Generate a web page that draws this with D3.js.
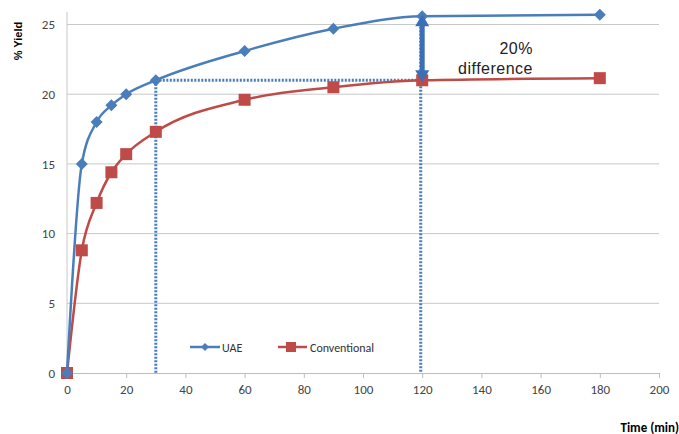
<!DOCTYPE html>
<html>
<head>
<meta charset="utf-8">
<script src="https://cdn.jsdelivr.net/npm/d3@7"></script>
<style>
  body { margin:0; background:#fff; }
  text { font-family: Calibri, Carlito, "Liberation Sans", Arial, sans-serif; }
</style>
</head>
<body>
<div id="chart"></div>
<script>
// data
var times = [0, 5, 10, 15, 20, 30, 60, 90, 120, 180]
var uae = [0, 15, 18, 19.2, 20, 21, 23.1, 24.7, 25.6, 25.7]
var conventional = [0, 8.8, 12.2, 14.4, 15.7, 17.3, 19.6, 20.5, 21.0, 21.15]
var xTicks = [0, 20, 40, 60, 80, 100, 120, 140, 160, 180, 200]
var yTicks = [0, 5, 10, 15, 20, 25]

var W = 679, H = 434
var m = { top:24.5, right:20, bottom:61, left:67 }
var blue = '#4a7ebb', red = '#be4b48'

var svg = d3.select('#chart').append('svg')
    .attr('width', W).attr('height', H)

var x = d3.scaleLinear().domain([0, 200]).range([m.left, W - m.right])
var y = d3.scaleLinear().domain([0, 25]).range([H - m.bottom, m.top])

// gridlines
svg.append('g').selectAll('line')
    .data(yTicks.slice(1))
  .enter().append('line')
    .attr('x1', x(0)).attr('x2', x(200))
    .attr('y1', d=> y(d)).attr('y2', d=> y(d))
    .style('stroke', '#c8c8c8')

// y axis line
svg.append('line')
    .attr('x1', x(0)).attr('x2', x(0))
    .attr('y1', 12).attr('y2', y(0))
    .style('stroke', '#c8c8c8')

// x axis
var xa = svg.append('g')
    .attr('transform', 'translate(0,' + y(0) + ')')
    .call(d3.axisBottom(x).tickValues(xTicks).tickSize(5).tickPadding(7))
xa.select('.domain').style('stroke', '#bdbdbd')
xa.selectAll('.tick line').style('stroke', '#bdbdbd')
xa.selectAll('text').style('font-size', '13px').style('fill', '#444')

// y labels
var ya = svg.append('g')
    .attr('transform', 'translate(' + x(0) + ',0)')
    .call(d3.axisLeft(y).tickValues(yTicks).tickSize(0).tickPadding(12))
ya.select('.domain').remove()
ya.selectAll('text').style('font-size', '13px').style('fill', '#444')

// axis titles
svg.append('text')
    .attr('transform', 'translate(22,41) rotate(-90)')
    .attr('text-anchor', 'middle')
    .style('font-family', '"Liberation Sans", Arial, sans-serif')
    .style('font-size', '11px').style('font-weight', 'bold')
    .text('% Yield')
svg.append('text')
    .attr('x', 679).attr('y', 432)
    .attr('text-anchor', 'end')
    .style('font-size', '13px').style('font-weight', 'bold')
    .text('Time (min)')

// dotted guide lines
var guide = svg.append('g')
    .style('stroke', blue).style('stroke-width', 3)
    .style('stroke-dasharray', '2,1.5').style('fill', 'none')
guide.append('line')
    .attr('x1', x(30)).attr('x2', x(30))
    .attr('y1', y(21)).attr('y2', y(0))
guide.append('line')
    .attr('x1', x(30)).attr('x2', x(120))
    .attr('y1', y(21)).attr('y2', y(21))
guide.append('line')
    .attr('x1', x(119.5)).attr('x2', x(119.5))
    .attr('y1', y(25.6)).attr('y2', y(0))

// series lines
var line = d3.line()
    .x((d, i)=> x(times[i]))
    .y(d=> y(d))
    .curve(d3.curveMonotoneX)

svg.append('path').datum(conventional)
    .attr('d', line)
    .style('fill', 'none').style('stroke', red).style('stroke-width', 2.5)
svg.append('path').datum(uae)
    .attr('d', line)
    .style('fill', 'none').style('stroke', blue).style('stroke-width', 2.5)

// markers
svg.append('g').selectAll('rect')
    .data(conventional)
  .enter().append('rect')
    .attr('x', (d, i)=> x(times[i]) - 6)
    .attr('y', d=> y(d) - 6)
    .attr('width', 12).attr('height', 12)
    .style('fill', red)
svg.append('g').selectAll('path')
    .data(uae)
  .enter().append('path')
    .attr('transform', (d, i)=> 'translate(' + x(times[i]) + ',' + y(d) + ')')
    .attr('d', 'M0,-6L6,0L0,6L-6,0Z')
    .style('fill', blue)

// double arrow
var ax = x(120), ay1 = y(25.6), ay2 = y(21)
svg.append('line')
    .attr('x1', ax).attr('x2', ax)
    .attr('y1', ay1 + 8).attr('y2', ay2 - 8)
    .style('stroke', '#3a6fb5').style('stroke-width', 5)
svg.append('path')
    .attr('d', 'M' + (ax - 7) + ',' + (ay1 + 10) + 'L' + ax + ',' + (ay1 - 2) + 'L' + (ax + 7) + ',' + (ay1 + 10) + 'Z')
    .style('fill', '#3a6fb5')
svg.append('path')
    .attr('d', 'M' + (ax - 7) + ',' + (ay2 - 10) + 'L' + ax + ',' + (ay2 + 2) + 'L' + (ax + 7) + ',' + (ay2 - 10) + 'Z')
    .style('fill', '#3a6fb5')

// annotation
var ann = svg.append('g').attr('text-anchor', 'end')
ann.append('text').attr('x', 533).attr('y', 54).text('20%')
ann.append('text').attr('x', 533).attr('y', 74).text('difference')
ann.selectAll('text')
    .style('font-family', '"Liberation Sans", Arial, sans-serif')
    .style('font-size', '16px').style('letter-spacing', '0.5px').style('fill', '#222')

// legend
var lg = svg.append('g').attr('transform', 'translate(0,347)')
lg.append('line').attr('x1', 190).attr('x2', 220)
    .style('stroke', blue).style('stroke-width', 2.5)
lg.append('path').attr('transform', 'translate(205,0)')
    .attr('d', 'M0,-4L4,0L0,4L-4,0Z').style('fill', blue)
lg.append('text').attr('x', 222).attr('y', 5)
    .style('font-size', '12px').style('fill', '#333').text('UAE')
lg.append('line').attr('x1', 278).attr('x2', 307)
    .style('stroke', red).style('stroke-width', 2.5)
lg.append('rect').attr('x', 286).attr('y', -5).attr('width', 10).attr('height', 10)
    .style('fill', red)
lg.append('text').attr('x', 310).attr('y', 5)
    .style('font-size', '12px').style('fill', '#333').text('Conventional')
</script>
</body>
</html>
